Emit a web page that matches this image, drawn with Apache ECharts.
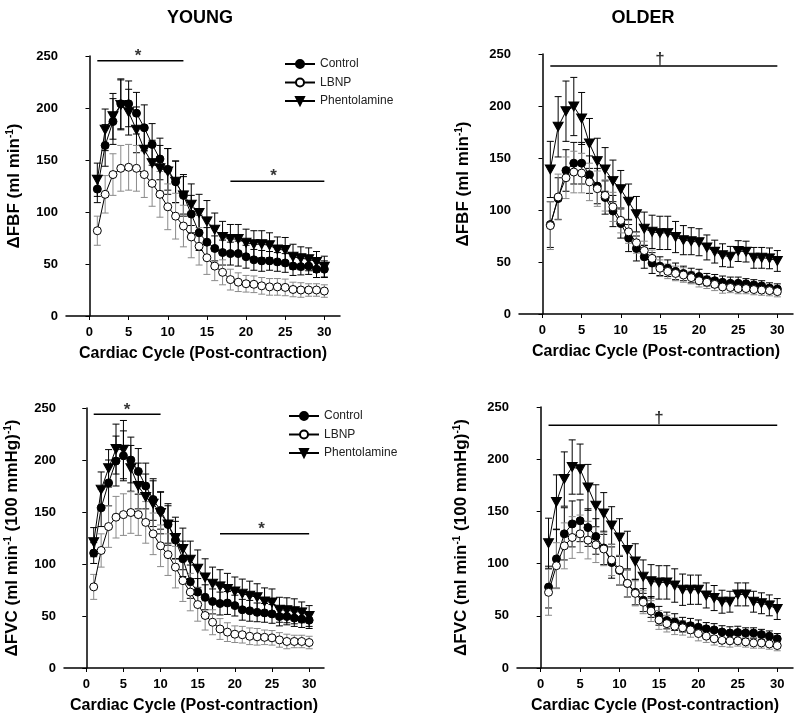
<!DOCTYPE html>
<html>
<head>
<meta charset="utf-8">
<script src="https://cdn.jsdelivr.net/npm/echarts@6/dist/echarts.min.js"></script>
<style>html,body{margin:0;padding:0;background:#fff}#c{width:794px;height:720px}</style>
</head>
<body>
<div id="c"></div>
<script>
const cycles = [1,2,3,4,5,6,7,8,9,10,11,12,13,14,15,16,17,18,19,20,21,22,23,24,25,26,27,28,29,30];
const xTicks = [0,5,10,15,20,25,30];
const yTicks = [0,50,100,150,200,250];
const seriesNames = ['Control','LBNP','Phentolamine'];
const groupTitles = ['YOUNG','OLDER'];

// Young FBF
const yFBF_control = [122,164,187,204,204,195,181,165,151,141,129,116,98,80,71,65,61,60,60,57,54,53,53,52,51,48,47.5,48,45,45];
const yFBF_controlErr = [13,20,22,24,22,20,22,20,20,20,20,18,18,17,14,12,12,11,12,11,10,10,9,9,9,9,8,8,8,8];
const yFBF_lbnp = [82,117,136,142,143,142,136,127.5,117,105,96,86.5,76,67,56,48,42,35,32.5,31,30.5,29,28,28,27.5,25.5,25,25,25,24];
const yFBF_lbnpErr = [14,18,20,22,22,22,22,22,22,22,22,20,20,18,16,14,12,10,9,8,8,8,8,8,8,7,7,6,6,6];
const yFBF_phent = [131,179,192,203,196,179,160,147,142,139,129,116,107,99,91,83,76,74,74,70.5,69,69,68,64,63.5,57,55.5,54.5,52,47.5];
const yFBF_phentErr = [16,20,22,24,22,22,22,22,22,22,20,20,20,18,20,16,15,14,14,13,13,13,12,12,12,12,11,11,10,10];

// Older FBF
const oFBF_control = [86,111,138,145,145,134,123,112,99,87,73,63,55,49,46,44,41,39,37,36,33,32,30.5,29.5,29.5,29,28,27,25,24];
const oFBF_controlErr = [22,20,20,20,20,18,17,16,15,14,13,12,11,10,9,8,8,7,7,7,6,6,6,6,6,5,5,5,5,5];
const oFBF_lbnp = [85,112.5,131,136.5,135.5,127,120.5,114,103,90,79,68.5,61,53.5,44,41,39,37.5,35,32,30.5,28.5,26,25.5,24.5,24.5,23.5,23,22.5,21.5];
const oFBF_lbnpErr = [23,22,20,20,19,18,17,15,14,12,11,10,9,8,8,7,7,7,6,6,6,6,6,5,5,5,5,5,5,5];
const oFBF_phent = [139,180,195,199.5,188,164,147,139,128,120,108,96,82,79,78,78,74,71,70,69,64,60,56.5,55,60.5,60,54,54,53.5,51];
const oFBF_phentErr = [27,29,29,28,25,24,22,21,20,18,17,17,16,16,16,16,15,14,13,13,12,11,11,10,10,10,10,10,10,10];

// Young FVC
const yFVC_control = [110.5,154,178,199,204,200,189,175,162,151.5,138,123,105,83,73,68,64,62,62.5,60,56,55,53.5,53,52,49.5,49.5,48,47,46];
const yFVC_controlErr = [10,18,22,24,24,22,22,22,20,18,18,18,17,16,13,12,12,11,11,10,10,10,9,9,9,9,8,8,8,8];
const yFVC_lbnp = [78,113,136,145,147.5,149.5,147.5,140,129,117.5,109,97,84,73,61,50.5,44,37.5,34.5,32.5,32,30.5,30,29.5,29,27,25.5,25.5,25.5,24.5];
const yFVC_lbnpErr = [12,16,20,20,20,20,20,20,20,20,20,20,20,18,16,14,12,10,9,8,8,8,8,7,7,7,7,6,6,6];
const yFVC_phent = [121,171.5,192,210.5,210,192,175,164.5,158,149,138,125,114.5,104,95.5,87,81,78.5,76,73.5,71.5,69.5,68,64,63,56,55.5,54.5,53.5,50];
const yFVC_phentErr = [14,17,18,24,28,22,22,22,22,20,20,20,20,18,18,18,16,16,15,14,14,14,13,13,13,12,12,12,10,10];

// Older FVC
const oFVC_control = [77.5,104.5,128.5,138,141,134.5,126,115,101,93.5,81,72.5,65,58.5,50,45.5,44,41.5,40.5,39,37.5,36.5,34.5,33.5,34,33.5,33.5,32,30.5,28];
const oFVC_controlErr = [20,28,25,22,20,18,17,16,15,14,13,12,11,10,9,8,8,7,7,7,6,6,6,6,6,5,5,5,5,5];
const oFVC_lbnp = [72.5,98,117,125,128.5,122.5,118,114,103.5,94,81,71.5,63,54.5,46,42.5,40,38.5,36.5,33,30.5,28,26.5,26,26,25,24,24,23,21.5];
const oFVC_lbnpErr = [22,22,22,20,18,18,17,16,15,14,13,12,11,10,9,8,8,7,7,7,6,6,6,6,5,5,5,5,5,5];
const oFVC_phent = [119.5,159,181,192.5,190.5,173,155.5,148,136.5,125,113,102,87.5,83,82,82,79,75,75,75,69.5,67,63.5,63.5,70.5,70.5,63.5,62,60,56.5];
const oFVC_phentErr = [24,26,26,26,24,22,20,20,18,18,18,17,16,16,16,16,16,15,14,14,12,12,11,10,11,11,10,10,10,10];

// Significance annotations [x1, x2, y] and symbol positions [x, y, text]
const sigBars = [
  [[1,12,245.5],[18,30,129.5]],
  [[1,30,238.5]],
  [[1,10,244],[18,30,129]],
  [[1,30,232.5]]
];
const sigMarks = [
  [[6.2,250,'*'],[23.5,134,'*']],
  [[15,245,'†']],
  [[5.5,248,'*'],[23.6,133,'*']],
  [[15,239,'†']]
];

const panelData = [
  [yFBF_control,yFBF_controlErr,yFBF_lbnp,yFBF_lbnpErr,yFBF_phent,yFBF_phentErr],
  [oFBF_control,oFBF_controlErr,oFBF_lbnp,oFBF_lbnpErr,oFBF_phent,oFBF_phentErr],
  [yFVC_control,yFVC_controlErr,yFVC_lbnp,yFVC_lbnpErr,yFVC_phent,yFVC_phentErr],
  [oFVC_control,oFVC_controlErr,oFVC_lbnp,oFVC_lbnpErr,oFVC_phent,oFVC_phentErr]
];

const grids = [
  {left:66, top:56, width:274, height:260},
  {left:519, top:54, width:274, height:260},
  {left:64, top:408, width:260, height:260},
  {left:517, top:407, width:276, height:261}
];

const fbfName = '{a|ΔFBF (ml min}{s|-1}{a|)}';
const fvcName = '{a|ΔFVC (ml min}{s|-1}{a| (100 mmHg)}{s|-1}{a|)}';
const yNames = [fbfName, fbfName, fvcName, fvcName];
const nameRich = {
  a:{fontFamily:'Liberation Sans, Arial', fontWeight:'bold', fontSize:17, color:'#000'},
  s:{fontFamily:'Liberation Sans, Arial', fontWeight:'bold', fontSize:10, color:'#000', padding:[0,0,8,0]}
};

function makeErr(color){
  return function(params, api){
    const x = api.value(0), y = api.value(1), e = api.value(2);
    const t = api.coord([x, y + e]);
    const b = api.coord([x, y - e]);
    const hw = 3.5;
    const st = {stroke: color, lineWidth: 1};
    return {type:'group', children:[
      {type:'line', shape:{x1:t[0], y1:t[1], x2:b[0], y2:b[1]}, style:st},
      {type:'line', shape:{x1:t[0]-hw, y1:t[1], x2:t[0]+hw, y2:t[1]}, style:st},
      {type:'line', shape:{x1:b[0]-hw, y1:b[1], x2:b[0]+hw, y2:b[1]}, style:st}
    ]};
  };
}

const xAxes = [], yAxes = [], series = [];
const fontBase = 'Liberation Sans, Arial, sans-serif';
grids.forEach((g, i) => {
  xAxes.push({
    gridIndex:i, type:'value', min:-3, max:32,
    axisLine:{lineStyle:{color:'#000', width:1.5}},
    axisTick:{customValues:xTicks, length:4, lineStyle:{color:'#000', width:1}},
    axisLabel:{customValues:xTicks, color:'#000', fontWeight:'bold', fontSize:13, fontFamily:fontBase, margin:10},
    splitLine:{show:false},
    name:'Cardiac Cycle (Post-contraction)', nameLocation:'middle', nameGap:30,
    nameTextStyle:{color:'#000', fontWeight:'bold', fontSize:16, fontFamily:fontBase}
  });
  yAxes.push({
    gridIndex:i, type:'value', min:0, max:250, interval:50,
    axisLine:{show:true, lineStyle:{color:'#000', width:1.5}},
    axisTick:{show:true, length:4, lineStyle:{color:'#000', width:1}},
    axisLabel:{color:'#000', fontWeight:'bold', fontSize:13, fontFamily:fontBase, margin:8},
    splitLine:{show:false},
    name:yNames[i], nameLocation:'middle', nameGap:(i%2===0?43:47),
    nameTextStyle:{rich:nameRich}
  });
  const d = panelData[i];
  const errColors = ['#000','#8a8a8a','#000'];
  const order = [2,0,1]; // Phentolamine, Control, LBNP draw order
  order.forEach(k => {
    series.push({
      type:'custom', xAxisIndex:i, yAxisIndex:i, z:1, silent:true,
      renderItem: makeErr(errColors[k]),
      data: cycles.map((c,j) => [c, d[k*2][j], d[k*2+1][j]])
    });
  });
  order.forEach(k => {
    const isPh = k === 2, isL = k === 1;
    series.push({
      type:'line', name:seriesNames[k], xAxisIndex:i, yAxisIndex:i, z:3+k,
      data: cycles.map((c,j) => [c, d[k*2][j]]),
      symbol: isPh ? 'triangle' : 'circle',
      symbolRotate: isPh ? 180 : 0,
      symbolSize: isPh ? [10,9] : 8,
      showSymbol:true,
      lineStyle:{color:'#000', width:1},
      itemStyle:{color: isL ? '#fff' : '#000', borderColor:'#000', borderWidth:1},
      emphasis:{disabled:true},
      animation:false
    });
  });
  sigBars[i].forEach(b => {
    series.push({
      type:'line', xAxisIndex:i, yAxisIndex:i, symbol:'none', silent:true,
      lineStyle:{color:'#000', width:1.5},
      data:[[b[0], b[2]], [b[1], b[2]]]
    });
  });
  series.push({
    type:'scatter', xAxisIndex:i, yAxisIndex:i, symbolSize:1, silent:true,
    itemStyle:{color:'rgba(0,0,0,0)'},
    label:{show:true, position:'inside', formatter:p => p.data[2], color:'#000', fontSize:17, fontWeight:'bold', fontFamily:fontBase},
    data: sigMarks[i]
  });
});

const legendCommon = {
  orient:'vertical', data:seriesNames, itemWidth:30, itemHeight:10, itemGap:6.5,
  textStyle:{color:'#222', fontSize:12, fontFamily:fontBase},
  symbolRotate:'inherit', selectedMode:false
};

const chart = echarts.init(document.getElementById('c'), null, {renderer:'canvas'});
chart.setOption({
  animation:false,
  backgroundColor:'#fff',
  title:[
    {text:groupTitles[0], left:195, top:4, textAlign:'center', textStyle:{fontSize:18, fontWeight:'bold', color:'#000', fontFamily:fontBase}},
    {text:groupTitles[1], left:638, top:4, textAlign:'center', textStyle:{fontSize:18, fontWeight:'bold', color:'#000', fontFamily:fontBase}}
  ],
  legend:[
    Object.assign({left:279, top:53}, legendCommon),
    Object.assign({left:283, top:405}, legendCommon)
  ],
  grid: grids,
  xAxis: xAxes,
  yAxis: yAxes,
  series: series
});
</script>
</body>
</html>
